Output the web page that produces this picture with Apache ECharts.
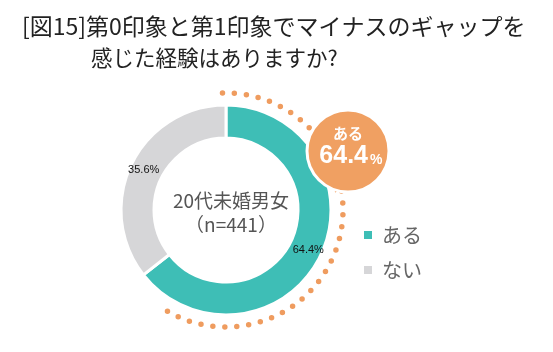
<!DOCTYPE html>
<html>
<head>
<meta charset="utf-8">
<script src="https://cdn.jsdelivr.net/npm/echarts@6/dist/echarts.min.js"></script>
<style>
  html, body { margin: 0; padding: 0; background: #fff; }
  #main { width: 553px; height: 352px; }
</style>
</head>
<body>
<div id="main"></div>
<script>
// データ
var categories = ['ある', 'ない'];
var values = [64.4, 35.6];
var colors = ['#3ebeb6', '#d6d6d8'];
var groupName = '20代未婚男女';
var sampleSize = 441;

var cx = 226, cy = 210;
var jpFont = '"Noto Sans CJK JP", sans-serif';
var numFont = 'Liberation Sans, Arial, sans-serif';

var myChart = echarts.init(document.getElementById('main'));

var pieData = categories.map(function (c, i) {
  return { name: c, value: values[i], itemStyle: { color: colors[i] } };
});

var option = {
  animation: false,
  title: [
    {
      text: '[図15]第0印象と第1印象でマイナスのギャップを',
      left: 17, top: 10,
      textStyle: { fontFamily: jpFont, fontSize: 23, fontWeight: 'normal', color: '#222' }
    },
    {
      text: '感じた経験はありますか?',
      left: 86, top: 42,
      textStyle: { fontFamily: jpFont, fontSize: 21.5, fontWeight: 'normal', color: '#222' }
    },
    {
      text: groupName + '\n（n=' + sampleSize + '）',
      left: cx, top: cy - 26, textAlign: 'center',
      textStyle: { fontFamily: jpFont, fontSize: 19, fontWeight: 'normal', color: '#555', lineHeight: 24 }
    }
  ],
  legend: {
    orient: 'vertical',
    left: 357, top: 220,
    icon: 'rect',
    itemWidth: 10, itemHeight: 10,
    itemGap: 15,
    data: categories,
    textStyle: { fontFamily: jpFont, fontSize: 20, color: '#666', padding: [0, 0, 0, 4] }
  },
  series: [
    {
      type: 'pie',
      center: [cx, cy],
      radius: [72, 105],
      startAngle: 90,
      clockwise: true,
      silent: true,
      itemStyle: { borderColor: '#fff', borderWidth: 3 },
      label: {
        show: true,
        position: 'inside',
        formatter: '{c}%',
        color: '#111',
        fontSize: 11,
        fontFamily: numFont
      },
      labelLine: { show: false },
      data: pieData
    },
    {
      // 点線の弧（「ある」の割合）
      type: 'custom',
      coordinateSystem: 'none',
      silent: true,
      data: [[values[0]]],
      renderItem: function (params, api) {
        var v = api.value(0);
        var start = -Math.PI / 2 - 0.03;
        var end = -Math.PI / 2 + Math.PI * 2 * v / 100 - 0.3;
        return {
          type: 'arc',
          shape: { cx: cx, cy: cy, r: 117, startAngle: start, endAngle: end, clockwise: true },
          style: { fill: null, stroke: '#ef9c5f', lineWidth: 5.5, lineDash: [0, 12], lineCap: 'round' }
        };
      }
    }
  ],
  graphic: {
    elements: [
      {
        type: 'group',
        z: 100,
        children: [
          {
            type: 'polygon',
            z: 100,
            shape: { points: [[328, 178], [344, 186], [335, 195]] },
            style: { fill: '#f0a062', stroke: '#fff', lineWidth: 2.5 }
          },
          {
            type: 'circle',
            z: 100,
            shape: { cx: 348, cy: 151, r: 41 },
            style: { fill: '#f0a062', stroke: '#fff', lineWidth: 3 }
          },
          {
            type: 'text',
            z: 101,
            x: 348, y: 133,
            style: {
              text: categories[0],
              fill: '#fff',
              font: 'bold 15px ' + jpFont,
              align: 'center', verticalAlign: 'middle'
            }
          },
          {
            type: 'text',
            z: 101,
            x: 368, y: 169,
            style: {
              text: String(values[0]),
              fill: '#fff',
              font: 'bold 25px ' + numFont,
              align: 'right', verticalAlign: 'bottom'
            }
          },
          {
            type: 'text',
            z: 101,
            x: 370, y: 167,
            style: {
              text: '%',
              fill: '#fff',
              font: 'bold 14px ' + numFont,
              align: 'left', verticalAlign: 'bottom'
            }
          }
        ]
      }
    ]
  }
};

myChart.setOption(option);
window.addEventListener('resize', function () {
  myChart.resize();
});
</script>
</body>
</html>
